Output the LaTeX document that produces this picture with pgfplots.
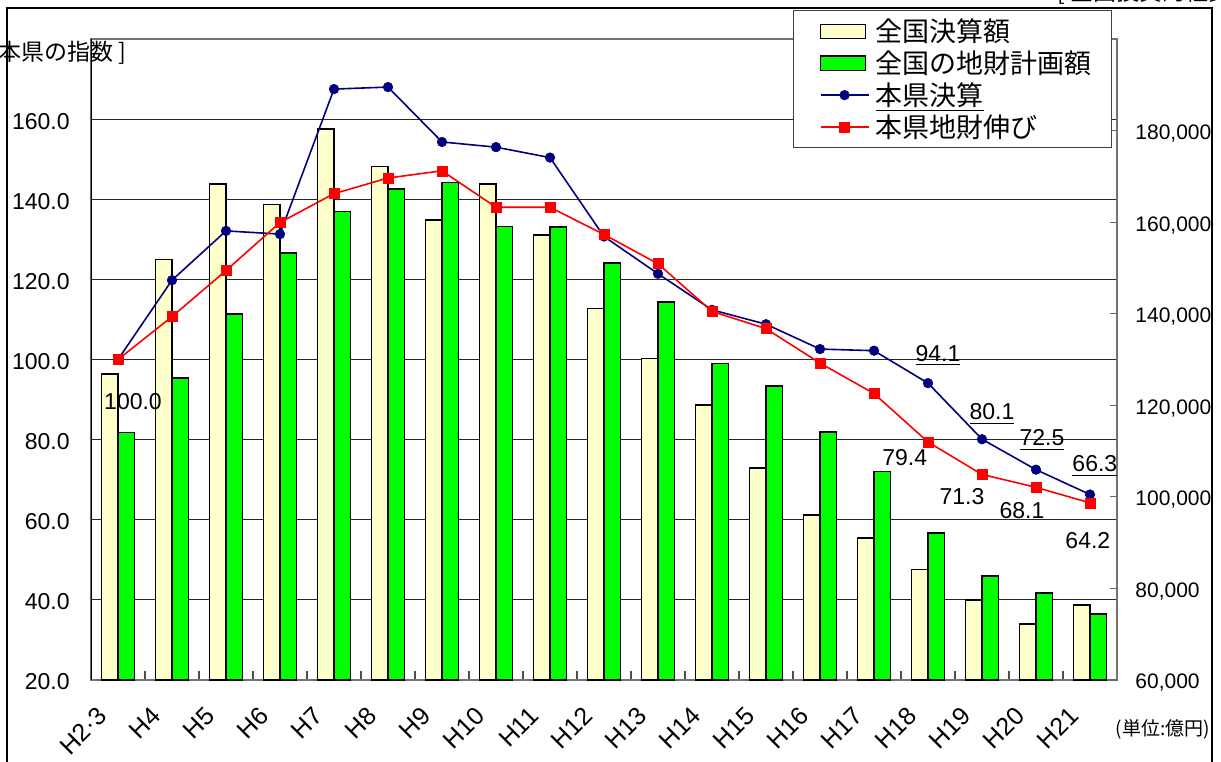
\documentclass[border=0pt]{standalone}
\usepackage{fontspec}
\setmainfont{Liberation Sans}
\newfontfamily\jp{Noto Sans CJK JP}
\usepackage{pgfplots}
\pgfplotsset{compat=1.18}
\definecolor{beige}{HTML}{FFFFCC}
\definecolor{lgreen}{HTML}{00FF00}
\definecolor{navyb}{HTML}{000080}
\begin{document}
\begin{tikzpicture}
\pgfplotsset{base/.style={scale only axis, width=513pt, height=320.5pt, xmin=-0.5, xmax=18.5}}
% axis 1: grid, left axis, category labels
\begin{axis}[base, ymin=20, ymax=180,
  axis line style={draw=black!55, line width=0.6pt},
  ytick={20,40,...,160}, ytick pos=left, ymajorgrids,
  grid style={black!85, line width=0.5pt},
  major tick length=0pt, minor tick length=4.5pt, tick align=inside,
  tick style={black!70, line width=0.6pt},
  yticklabel style={font=\fontsize{11.5}{13}\selectfont, inner sep=0pt, xshift=-10.5pt, yshift=-1pt,
    /pgf/number format/fixed, /pgf/number format/fixed zerofill, /pgf/number format/precision=1,
    /pgf/number format/assume math mode=true},
  xtick={0,1,...,18}, minor x tick num=1, xtick pos=bottom,
  xticklabels={H2·3,H4,H5,H6,H7,H8,H9,H10,H11,H12,H13,H14,H15,H16,H17,H18,H19,H20,H21},
  xticklabel style={font=\fontsize{12.5}{14}\selectfont, xshift=-11pt, yshift=-12.5pt, rotate=45, anchor=north east, inner sep=0pt},
]
\draw[black, line width=0.8pt] (rel axis cs:0,0) -- (rel axis cs:0,1);
\end{axis}
% axis 2: bars on right axis
\begin{axis}[base, ymin=60000, ymax=200000,
  axis x line=none, axis y line*=right,
  axis line style={draw=black!55, line width=0.6pt, -},
  ytick={60000,80000,...,180000},
  major tick length=3.5pt, tick align=inside, tick style={black!60, line width=0.6pt},
  scaled y ticks=false,
  yticklabel style={font=\fontsize{10.5}{12}\selectfont, inner sep=0pt, xshift=9pt, yshift=-1.5pt,
    /pgf/number format/fixed, /pgf/number format/precision=0, /pgf/number format/1000 sep={,},
    /pgf/number format/assume math mode=true},
  ybar=0pt, bar width=8.25pt]
\addplot[fill=beige, draw=black, line width=0.7pt] coordinates {
(0,126800) (1,151900) (2,168300) (3,163800) (4,180300) (5,172100) (6,160500) (7,168300) (8,157200) (9,141100)
(10,130200) (11,120100) (12,106300) (13,96000) (14,91000) (15,84200) (16,77500) (17,72200) (18,76400)};
\addplot[fill=lgreen, draw=black, line width=0.7pt] coordinates {
(0,114100) (1,126000) (2,139900) (3,153300) (4,162300) (5,167200) (6,168600) (7,159000) (8,158900) (9,151100)
(10,142600) (11,129100) (12,124200) (13,114200) (14,105600) (15,92100) (16,82700) (17,79000) (18,74400)};
\end{axis}
% axis 3: lines on left axis + legend
\begin{axis}[base, ymin=20, ymax=180, hide axis, clip=false,
  legend image code/.code={\path[draw=none,fill=none] (0pt,0pt) (31pt,0pt); \draw[#1, mark repeat=2, mark phase=2] plot coordinates {(3.5pt,0pt) (15.5pt,0pt) (27.5pt,0pt)};},
  legend style={at={(0.6842,1.0452)}, anchor=north west, draw=black!75, line width=0.6pt, fill=white,
    inner xsep=10pt, inner ysep=2.5pt, row sep=0pt, font={\jp\fontsize{13.5}{16}\selectfont},
    nodes={inner sep=0pt, text height=13pt, text depth=2.9pt}},
  legend cell align=left]
\addlegendimage{legend image code/.code={\path[draw=none,fill=none] (0pt,0pt) (31pt,0pt); \draw[fill=beige, draw=black, line width=0.7pt] (3.5pt,-3.6pt) rectangle (26pt,3.6pt);}}
\addlegendimage{legend image code/.code={\path[draw=none,fill=none] (0pt,0pt) (31pt,0pt); \draw[fill=lgreen, draw=black, line width=0.7pt] (3.5pt,-3.6pt) rectangle (26pt,3.6pt);}}
\addplot[navyb, line width=0.8pt, mark=*, mark size=2.4pt, mark options={solid, fill=navyb, draw=navyb, line width=0.3pt}] coordinates {
(0,100) (1,119.8) (2,132.1) (3,131.3) (4,167.5) (5,168.0) (6,154.3) (7,153.0) (8,150.4) (9,130.7)
(10,121.4) (11,112.4) (12,108.8) (13,102.6) (14,102.2) (15,94.1) (16,80.1) (17,72.5) (18,66.3)};
\addplot[red, line width=0.8pt, mark=square*, mark size=2.5pt, mark options={solid, fill=red, draw=red, line width=0.3pt}] coordinates {
(0,100) (1,110.7) (2,122.2) (3,134.2) (4,141.4) (5,145.3) (6,147.1) (7,138.0) (8,138.0) (9,131.2)
(10,123.9) (11,112.0) (12,107.7) (13,99.1) (14,91.5) (15,79.4) (16,71.3) (17,68.1) (18,64.2)};
\legend{全国決算額, 全国の地財計画額, \underline{本県決算}, 本県地財伸び}
\begin{scope}[font=\fontsize{11.5}{13}\selectfont]
\node at (axis cs:0.278,89.6) {100.0};
\node at (axis cs:15.185,100.9) {\underline{94.1}};
\node at (axis cs:16.185,86.4) {\underline{80.1}};
\node at (axis cs:17.11,79.9) {\underline{72.5}};
\node at (axis cs:18.09,73.4) {\underline{66.3}};
\node at (axis cs:14.57,75.4) {79.4};
\node at (axis cs:15.63,65.7) {71.3};
\node at (axis cs:16.74,62.4) {68.1};
\node at (axis cs:17.96,54.9) {64.2};
\end{scope}
\end{axis}
\draw[black, line width=0.75pt] (-42pt,-50pt) rectangle (560.5pt,336pt);
\node[anchor=east, font={\jp\fontsize{11.5}{14}\selectfont}, inner sep=0pt] at (18pt,313.5pt) {[ 本県の指数 ]};
\node[anchor=base west, font={\jp\fontsize{11.5}{14}\selectfont}, inner sep=0pt] at (483pt,339.5pt) {[ 全国投資的経費 ]};
\node[font={\jp\fontsize{9.5}{11}\selectfont}, inner sep=0pt] at (536pt,-24.5pt) {(単位:億円)};
\pgfresetboundingbox
\useasboundingbox (-45.5pt,-40.5pt) rectangle (565pt,340pt);
\end{tikzpicture}
\end{document}
